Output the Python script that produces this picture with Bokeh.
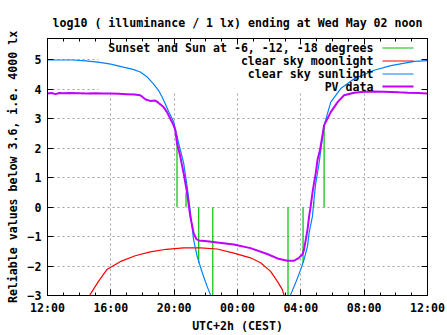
import math
from bokeh.plotting import figure
from bokeh.models import (Range1d, FixedTicker, LinearAxis, Label, BoxAnnotation,
                          CustomJSTickFormatter)
from bokeh.embed import file_html
from bokeh.resources import INLINE

nan = float("nan")

# x = hours since 12:00 CEST (May 01)
x_tick_hours = [0, 4, 8, 12, 16, 20, 24]
x_tick_labels = ["12:00", "16:00", "20:00", "00:00", "04:00", "08:00", "12:00"]
x_minor_hours = list(range(0, 25))
y_ticks = [-3, -2, -1, 0, 1, 2, 3, 4, 5]

title_text = "log10 ( illuminance / 1 lx) ending at Wed May 02 noon"
x_label_text = "UTC+2h (CEST)"
y_label_text = "Reliable values below 3.6, i.e. 4000 lx"
legend_labels = ["Sunset and Sun at -6, -12, -18 degrees", "clear sky moonlight",
                 "clear sky sunlight", "PV data"]
legend_colors = ["#00c000", "#ff0000", "#0080ff", "#c000ff"]

sun_hours = [0, 1.6, 2.4, 3.2, 4.0, 4.78, 5.4, 5.86, 6.3, 6.68, 7.0, 7.23, 7.45, 7.65,
             7.97, 8.28, 8.6, 8.82, 8.98, 9.13, 9.23, 9.45, 9.77, 10.08, 10.29, 10.45,
             nan,
             15.2, 15.36, 15.67, 15.99, 16.2, 16.42, 16.52, 16.73, 16.83, 16.94, 17.15,
             17.26, 17.47, 17.89, 18.52, 19.37, 20.63, 21.69, 23.17, 24.0]
sun_values = [5.0, 5.0, 4.97, 4.93, 4.86, 4.76, 4.68, 4.59, 4.42, 4.2, 3.98, 3.75, 3.5, 3.25,
              2.90, 2.18, 1.50, 0.70, 0.02, -0.66, -1.11, -1.67, -2.22, -2.69, -2.97, -3.2,
              nan,
              -3.2, -2.97, -2.57, -2.12, -1.78, -1.33, -0.88, -0.32, 0.25, 0.81, 1.49,
              1.94, 2.78, 3.57, 4.03, 4.36, 4.65, 4.81, 4.95, 4.98]

moon_hours = [2.5, 2.69, 3.22, 3.75, 4.59, 5.54, 6.49, 7.5, 8.6, 9.65, 10.72, 11.77, 12.82,
              13.46, 14.09, 14.52, 14.83, 14.93, 15.0]
moon_values = [-3.3, -2.97, -2.52, -2.12, -1.85, -1.65, -1.52, -1.43, -1.38, -1.38, -1.42,
               -1.56, -1.72, -1.89, -2.18, -2.52, -2.80, -2.97, -3.2]

pv_hours = [0, 0.25, 0.5, 0.75, 1.0, 1.5, 2.0, 2.5, 3.0, 3.5, 4.0, 4.5, 5.0, 5.5, 5.86,
            6.2, 6.49, 6.81, 7.0, 7.33, 7.55, 7.76, 7.95, 8.07, 8.18, 8.39, 8.6, 8.82,
            9.02, 9.23, 9.4, 9.55, 10.08, 10.72, 11.77, 12.82, 13.88, 14.52, 15.15, 15.57,
            15.88, 16.1, 16.2, 16.31, 16.42, 16.52, 16.62, 16.73, 16.83, 16.94, 17.05,
            17.21, 17.47, 17.89, 18.32, 18.73, 19.37, 20.0, 20.63, 21.2, 21.69, 22.2,
            22.75, 23.4, 24.0]
pv_values = [3.86, 3.88, 3.84, 3.88, 3.87, 3.88, 3.87, 3.86, 3.87, 3.86, 3.86, 3.85, 3.84,
             3.83, 3.80, 3.66, 3.61, 3.62, 3.55, 3.40, 3.23, 3.00, 2.80, 2.62, 2.17, 1.71,
             1.15, 0.47, -0.32, -0.88, -1.08, -1.13, -1.16, -1.20, -1.27, -1.39, -1.59,
             -1.74, -1.82, -1.82, -1.72, -1.61, -1.44, -1.11, -0.77, -0.32, 0.02, 0.47,
             0.81, 1.15, 1.60, 1.94, 2.78, 3.23, 3.57, 3.80, 3.89, 3.92, 3.93, 3.92, 3.91,
             3.90, 3.89, 3.88, 3.86]

# sunset / -6 / -12 / -18 degrees (evening), then -18 / -12 / -6 / sunrise (morning)
twilight_hours = [8.18, 8.75, 9.55, 10.44, 15.19, 16.14, 16.81, 17.47]
twilight_start = [0, 0, 0, 0, 0, 0, 0, 0]
twilight_end = [2.44, 0.5, -1.9, -3.0, -3.0, -1.9, 0.2, 2.78]

FONT = "DejaVu Sans Mono"
FS = "11.6px"

W, H = 447, 335
BL, BR, BT, BB = 47, 20, 38, 39
FW, FH = W - BL - BR, H - BT - BB

p = figure(width=W, height=H, output_backend="svg", toolbar_location=None,
           x_range=Range1d(0, 24), y_range=Range1d(-3, 5.73),
           min_border_left=BL, min_border_right=BR, min_border_top=BT,
           min_border_bottom=BB, x_axis_location=None, y_axis_location=None)
p.background_fill_color = "white"
p.border_fill_color = "white"
p.outline_line_color = "black"
p.outline_line_width = 1

p.title.text = title_text
p.title.align = "center"
p.title.text_font = FONT
p.title.text_font_style = "bold"
p.title.text_font_size = FS
p.title.text_color = "black"
p.title.standoff = 18

xt = FixedTicker(ticks=x_tick_hours, minor_ticks=x_minor_hours)
yt = FixedTicker(ticks=y_ticks, minor_ticks=[])
empty = CustomJSTickFormatter(code="return ''")

def style_axis(ax):
    ax.axis_line_color = "black"
    ax.major_tick_in = 6
    ax.major_tick_out = 0
    ax.minor_tick_in = 3
    ax.minor_tick_out = 0
    ax.major_tick_line_color = "black"
    ax.minor_tick_line_color = "black"
    ax.major_label_text_font = FONT
    ax.major_label_text_font_style = "bold"
    ax.major_label_text_font_size = FS
    ax.major_label_text_color = "black"
    ax.major_label_standoff = 7
    ax.axis_label_text_font = FONT
    ax.axis_label_text_font_style = "bold"
    ax.axis_label_text_font_size = FS
    ax.axis_label_text_color = "black"

bx = LinearAxis(ticker=xt, major_label_overrides={h: l for h, l in zip(x_tick_hours, x_tick_labels)},
                axis_label=x_label_text)
style_axis(bx)
bx.major_label_standoff = 5
bx.axis_label_standoff = 1
p.add_layout(bx, "below")
tx = LinearAxis(ticker=xt, formatter=empty)
style_axis(tx)
tx.major_label_standoff = 0
p.add_layout(tx, "above")
ly = LinearAxis(ticker=yt, axis_label=y_label_text)
style_axis(ly)
ly.major_label_standoff = 6
ly.axis_label_standoff = 5
p.add_layout(ly, "left")
ry = LinearAxis(ticker=yt, formatter=empty)
style_axis(ry)
ry.major_label_standoff = 0
p.add_layout(ry, "right")

p.xgrid.ticker = FixedTicker(ticks=x_tick_hours)
p.ygrid.ticker = FixedTicker(ticks=y_ticks)
for g in (p.xgrid, p.ygrid):
    g.grid_line_color = "#a0a0a0"
    g.grid_line_dash = "2 3"
    g.grid_line_width = 1

# key area hides the grid (as gnuplot does)
p.add_layout(BoxAnnotation(left=51, right=FW, bottom=FH - 54, top=FH,
                           left_units="screen", right_units="screen",
                           bottom_units="screen", top_units="screen",
                           fill_color="white", fill_alpha=1.0, line_color=None,
                           level="underlay"))

# data
p.segment(x0=twilight_hours, y0=twilight_start, x1=twilight_hours, y1=twilight_end,
          line_color=legend_colors[0], line_width=1.2)
p.line(moon_hours, moon_values, line_color=legend_colors[1], line_width=1.2)
p.line(sun_hours, sun_values, line_color=legend_colors[2], line_width=1.2)
p.line(pv_hours, pv_values, line_color=legend_colors[3], line_width=2)

# legend (gnuplot style: text right-aligned, sample on the right)
row_y = [FH - 10, FH - 23, FH - 36, FH - 49]
for txt, col, ry_, lw in zip(legend_labels, legend_colors, row_y, [1, 1, 1, 2]):
    p.add_layout(Label(x=326, y=ry_, x_units="screen", y_units="screen", text=txt,
                       text_align="right", text_baseline="middle", text_font=FONT,
                       text_font_style="bold", text_font_size=FS, text_color="black"))
    p.add_layout(BoxAnnotation(left=335, right=366, bottom=ry_ - 1, top=ry_ - 1 + lw,
                               left_units="screen", right_units="screen",
                               bottom_units="screen", top_units="screen",
                               fill_color=col, fill_alpha=1.0, line_color=None,
                               level="overlay"))

open("out.html", "w").write(file_html(p, INLINE))
